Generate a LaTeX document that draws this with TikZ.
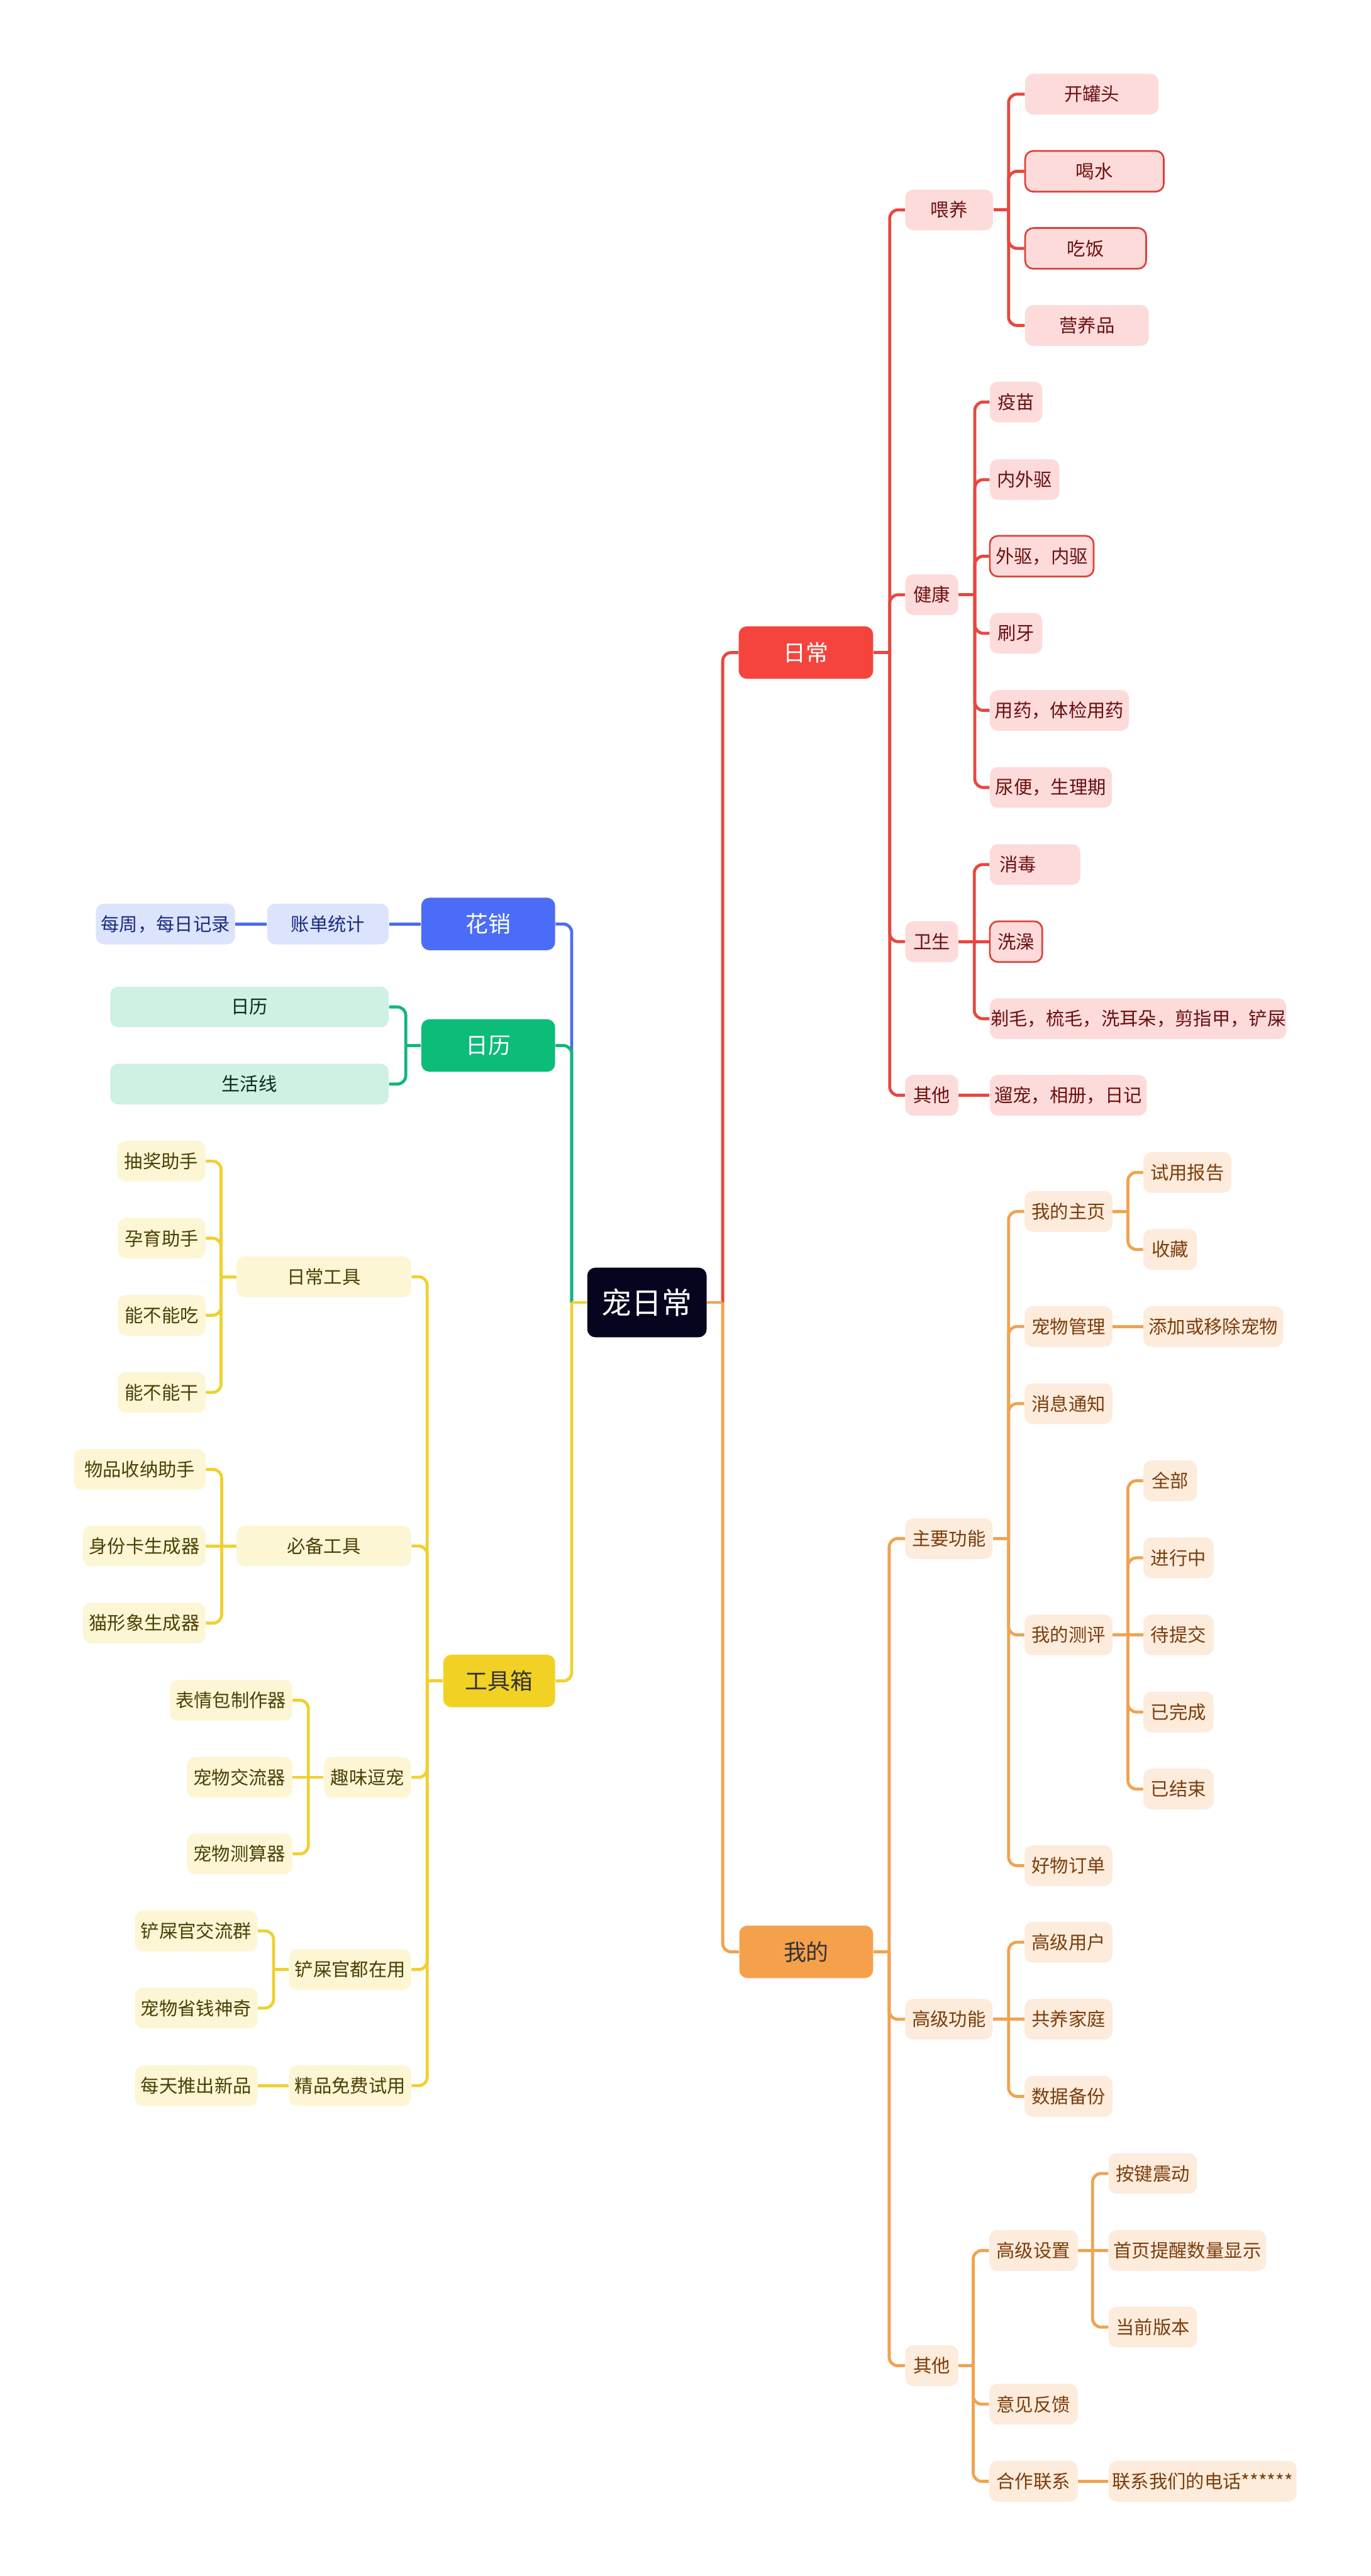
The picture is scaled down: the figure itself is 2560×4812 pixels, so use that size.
\documentclass[tikz,border=0pt]{standalone}
\usepackage{fontspec}
\setmainfont{Noto Sans CJK SC}
\definecolor{rootF}{HTML}{05051F}
\definecolor{redM}{HTML}{F5443D}
\definecolor{redLn}{HTML}{E8473F}
\definecolor{redL}{HTML}{FDDBDB}
\definecolor{redT}{HTML}{6B1010}
\definecolor{redB}{HTML}{DE4038}
\definecolor{blueM}{HTML}{4A6CF7}
\definecolor{blueL}{HTML}{DCE3FC}
\definecolor{blueT}{HTML}{1B2A80}
\definecolor{blueLn}{HTML}{4A6CF0}
\definecolor{greenM}{HTML}{0CBC79}
\definecolor{greenL}{HTML}{CDF1E2}
\definecolor{greenT}{HTML}{0E2A1E}
\definecolor{greenLn}{HTML}{12B77A}
\definecolor{yelM}{HTML}{F2D125}
\definecolor{yelL}{HTML}{FCF6D4}
\definecolor{yelT}{HTML}{4C3F06}
\definecolor{yelLn}{HTML}{F0D030}
\definecolor{orM}{HTML}{F5A04B}
\definecolor{orL}{HTML}{FDEBDC}
\definecolor{orT}{HTML}{7A3E0C}
\definecolor{orLn}{HTML}{F0A352}
\tikzset{
  box/.style={rounded corners=4.3pt, inner sep=0pt, align=center},
  small/.style={font=\fontsize{9.8}{12}\selectfont, minimum height=0.76cm},
  big/.style={font=\fontsize{12}{14}\selectfont, minimum height=0.98cm},
  rootbox/.style={box, fill=rootF, text=white, font=\fontsize{16}{19}\selectfont, minimum height=1.30cm},
  rl1/.style={box, big, fill=redM, text=white},
  rs/.style={box, small, fill=redL, text=redT},
  rsb/.style={rs, draw=redB, line width=0.9pt},
  bl1/.style={box, big, fill=blueM, text=white},
  bs/.style={box, small, fill=blueL, text=blueT},
  gl1/.style={box, big, fill=greenM, text=white},
  gs/.style={box, small, fill=greenL, text=greenT},
  yl1/.style={box, big, fill=yelM, text=black!80},
  ys/.style={box, small, fill=yelL, text=yelT},
  ol1/.style={box, big, fill=orM, text=black!80},
  os/.style={box, small, fill=orL, text=orT},
  rline/.style={draw=redLn, line width=1.6pt},
  bline/.style={draw=blueLn, line width=1.6pt},
  gline/.style={draw=greenLn, line width=1.6pt},
  yline/.style={draw=yelLn, line width=1.6pt},
  oline/.style={draw=orLn, line width=1.6pt},
}
\newcommand\bx[6]{\node[#1, minimum width={(#4-#3)*0.01cm}] (#2) at ({(#3+#4)/2},#5) {#6};}
\newcommand\conR[4]{\draw[#1] (#2.east) -- (#2.east -| #3,0);
  \foreach \ch in {#4}{\draw[#1,rounded corners=4.5pt] (#2.east -| #3,0) |- (\ch.west);}}
\newcommand\conL[4]{\draw[#1] (#2.west) -- (#2.west -| #3,0);
  \foreach \ch in {#4}{\draw[#1,rounded corners=4.5pt] (#2.west -| #3,0) |- (\ch.east);}}
\begin{document}
\begin{tikzpicture}[x=0.01cm, y=-0.01cm]
\useasboundingbox[fill=white] (0,0) rectangle (2560,4812);
% root
\bx{rootbox}{root}{1097}{1320}{2433}{宠日常}
% ---------- red branch ----------
\bx{rl1}{rc}{1380}{1631}{1219}{日常}
\bx{rs}{wy}{1691}{1855}{392}{喂养}
\bx{rs}{jk}{1691}{1790}{1111}{健康}
\bx{rs}{ws}{1691}{1790}{1759}{卫生}
\bx{rs}{qt}{1691}{1790}{2046}{其他}
\bx{rs}{kgt}{1915}{2164}{176}{开罐头}
\bx{rsb}{hs}{1915}{2174}{320}{喝水}
\bx{rsb}{cf}{1915}{2141}{464}{吃饭}
\bx{rs}{yyp}{1915}{2146}{608}{营养品}
\bx{rs}{ym}{1849}{1947}{751}{疫苗}
\bx{rs}{nwq}{1849}{1979}{896}{内外驱}
\bx{rsb}{wqnq}{1849}{2043}{1039}{外驱，内驱}
\bx{rs}{sy}{1849}{1947}{1183}{刷牙}
\bx{rs}{yy}{1849}{2109}{1327}{用药，体检用药}
\bx{rs}{nb}{1849}{2077}{1471}{尿便，生理期}
\node[rs, minimum width=1.69cm, text width=1.33cm, inner xsep=0.18cm, align=left] (xd) at (1933.5,1615) {消毒};
\bx{rsb}{xz}{1849}{1947}{1759}{洗澡}
\bx{rs}{tm}{1849}{2403}{1903}{剃毛，梳毛，洗耳朵，剪指甲，铲屎}
\bx{rs}{lc}{1849}{2142}{2046}{遛宠，相册，日记}
% ---------- orange branch ----------
\bx{ol1}{wd}{1381}{1631}{3646}{我的}
\bx{os}{zygn}{1691}{1854}{2874}{主要功能}
\bx{os}{gjgn}{1691}{1854}{3772}{高级功能}
\bx{os}{oqt}{1691}{1790}{4419}{其他}
\bx{os}{wdzy}{1914}{2078}{2263}{我的主页}
\bx{os}{cwgl}{1914}{2078}{2478}{宠物管理}
\bx{os}{xxtz}{1914}{2078}{2622}{消息通知}
\bx{os}{wdcp}{1914}{2078}{3054}{我的测评}
\bx{os}{hwdd}{1914}{2078}{3485}{好物订单}
\bx{os}{sybg}{2136}{2300}{2190}{试用报告}
\bx{os}{sc}{2136}{2236}{2334}{收藏}
\bx{os}{tjyc}{2136}{2397}{2478}{添加或移除宠物}
\bx{os}{qb}{2136}{2236}{2766}{全部}
\bx{os}{jxz}{2136}{2267}{2910}{进行中}
\bx{os}{dtj}{2136}{2267}{3054}{待提交}
\bx{os}{ywc}{2136}{2267}{3198}{已完成}
\bx{os}{yjs}{2136}{2267}{3342}{已结束}
\bx{os}{gjyh}{1914}{2078}{3628}{高级用户}
\bx{os}{gyjt}{1914}{2078}{3772}{共养家庭}
\bx{os}{sjbf}{1914}{2078}{3916}{数据备份}
\bx{os}{gjsz}{1848}{2013}{4204}{高级设置}
\bx{os}{yjfk}{1848}{2013}{4491}{意见反馈}
\bx{os}{hzlx}{1848}{2013}{4635}{合作联系}
\bx{os}{ajzd}{2071}{2236}{4060}{按键震动}
\bx{os}{sytx}{2071}{2365}{4204}{首页提醒数量显示}
\bx{os}{dqbb}{2071}{2236}{4347}{当前版本}
\bx{os}{lxwm}{2071}{2422}{4635}{联系我们的电话******}
% ---------- blue ----------
\bx{bl1}{hx}{787}{1037}{1726}{花销}
\bx{bs}{zdtj}{499}{726}{1726}{账单统计}
\bx{bs}{mzmr}{179}{439}{1726}{每周，每日记录}
% ---------- green ----------
\bx{gl1}{rl}{787}{1037}{1953}{日历}
\bx{gs}{rlc}{206}{726}{1881}{日历}
\bx{gs}{shx}{206}{726}{2025}{生活线}
% ---------- yellow ----------
\bx{yl1}{gjx}{828}{1037}{3140}{工具箱}
\bx{ys}{rcgj}{442}{768}{2385}{日常工具}
\bx{ys}{bbgj}{442}{768}{2888}{必备工具}
\bx{ys}{qwdc}{605}{768}{3320}{趣味逗宠}
\bx{ys}{cdy}{540}{768}{3679}{铲屎官都在用}
\bx{ys}{jpmf}{540}{768}{3896}{精品免费试用}
\bx{ys}{cjzs}{219}{384}{2169}{抽奖助手}
\bx{ys}{yyzs}{220}{384}{2313}{孕育助手}
\bx{ys}{nbnc}{220}{384}{2457}{能不能吃}
\bx{ys}{nbng}{220}{384}{2601}{能不能干}
\bx{ys}{wpsn}{138}{384}{2745}{物品收纳助手}
\bx{ys}{sfk}{155}{384}{2888}{身份卡生成器}
\bx{ys}{mxx}{155}{384}{3032}{猫形象生成器}
\bx{ys}{bqb}{317}{546}{3176}{表情包制作器}
\bx{ys}{cwjl}{349}{546}{3320}{宠物交流器}
\bx{ys}{cwcs}{349}{546}{3463}{宠物测算器}
\bx{ys}{csgq}{252}{481}{3607}{铲屎官交流群}
\bx{ys}{cwsq}{252}{481}{3751}{宠物省钱神奇}
\bx{ys}{mttc}{252}{481}{3896}{每天推出新品}
% ---------- connectors: root ----------
\draw[rline, rounded corners=4.5pt] (root.east -| 1350,0) |- (rc.west);
\draw[oline, rounded corners=4.5pt] (root.east -| 1350,0) |- (wd.west);
\draw[oline] (root.east) -- (root.east -| 1350,0);
\draw[bline, rounded corners=4.5pt] (root.west -| 1068,0) |- (hx.east);
\draw[gline, rounded corners=4.5pt] (root.west -| 1068,0) |- (rl.east);
\draw[yline, rounded corners=4.5pt] (root.west -| 1068,0) |- (gjx.east);
\draw[yline] (root.west) -- (root.west -| 1068,0);
% red
\conR{rline}{rc}{1662}{wy,jk,ws,qt}
\conR{rline}{wy}{1884}{kgt,hs,cf,yyp}
\conR{rline}{jk}{1821}{ym,nwq,wqnq,sy,yy,nb}
\conR{rline}{ws}{1820}{xd,tm}
\draw[rline] (ws.east) -- (xz.west);
\draw[rline] (qt.east) -- (lc.west);
% orange
\conR{oline}{wd}{1661}{zygn,gjgn,oqt}
\conR{oline}{zygn}{1884}{wdzy,cwgl,xxtz,wdcp,hwdd}
\conR{oline}{wdzy}{2107}{sybg,sc}
\draw[oline] (cwgl.east) -- (tjyc.west);
\conR{oline}{wdcp}{2107}{qb,jxz,ywc,yjs}
\draw[oline] (wdcp.east) -- (dtj.west);
\conR{oline}{gjgn}{1884}{gjyh,sjbf}
\draw[oline] (gjgn.east) -- (gyjt.west);
\conR{oline}{oqt}{1818}{gjsz,yjfk,hzlx}
\conR{oline}{gjsz}{2041}{ajzd,dqbb}
\draw[oline] (gjsz.east) -- (sytx.west);
\draw[oline] (hzlx.east) -- (lxwm.west);
% blue
\draw[bline] (hx.west) -- (zdtj.east);
\draw[bline] (zdtj.west) -- (mzmr.east);
% green
\conL{gline}{rl}{758}{rlc,shx}
% yellow
\conL{yline}{gjx}{798}{rcgj,bbgj,qwdc,cdy,jpmf}
\conL{yline}{rcgj}{413}{cjzs,yyzs,nbnc,nbng}
\conL{yline}{bbgj}{414}{wpsn,mxx}
\draw[yline] (bbgj.west) -- (sfk.east);
\conL{yline}{qwdc}{576}{bqb,cwcs}
\draw[yline] (qwdc.west) -- (cwjl.east);
\conL{yline}{cdy}{511}{csgq,cwsq}
\draw[yline] (jpmf.west) -- (mttc.east);
\end{tikzpicture}
\end{document}
